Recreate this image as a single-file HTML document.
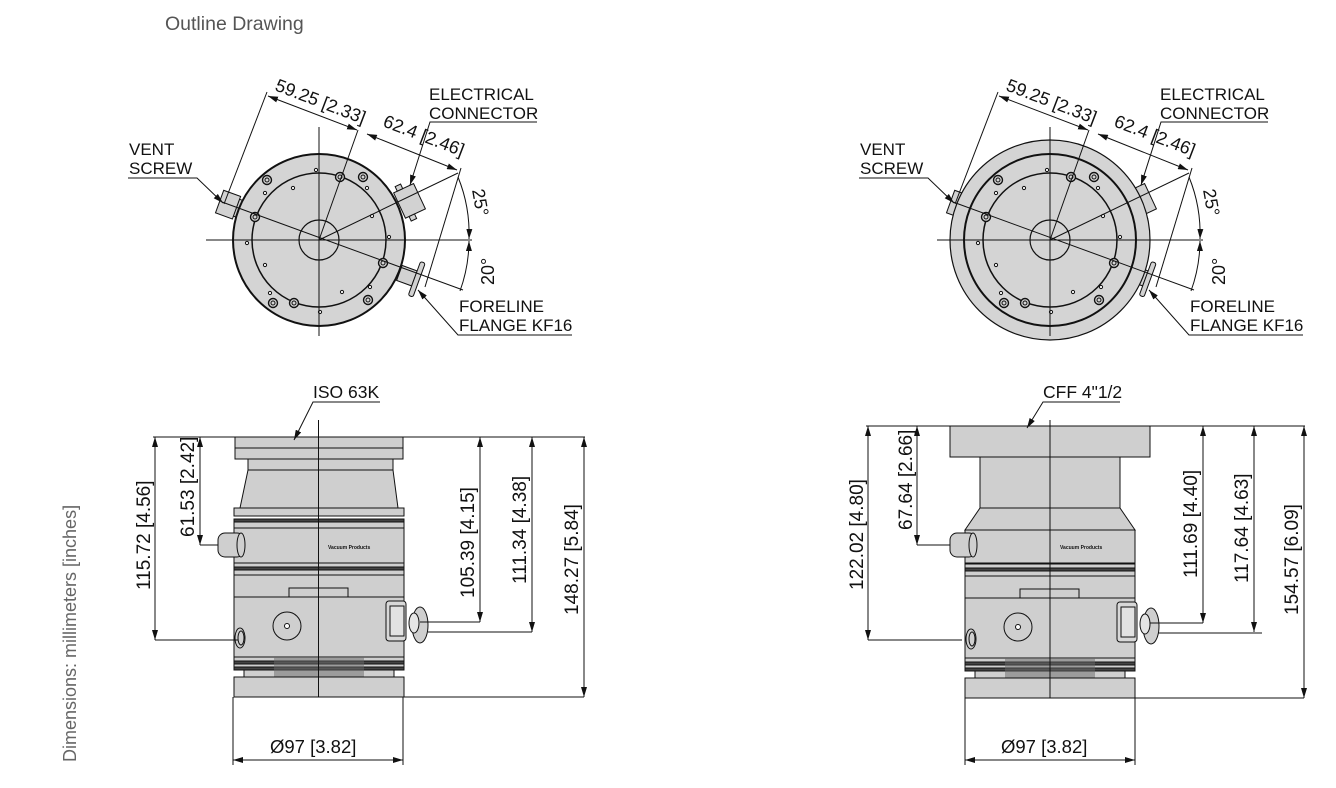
<!DOCTYPE html>
<html><head><meta charset="utf-8"><style>
html,body{margin:0;padding:0;background:#fff;}
svg{display:block;}
text{font-family:"Liberation Sans",Arial,sans-serif;fill:#111;}
</style></head><body>
<svg width="1336" height="788" viewBox="0 0 1336 788" xmlns="http://www.w3.org/2000/svg">
<defs>
<marker id="ar" viewBox="0 0 10 6" refX="10" refY="3" markerWidth="10" markerHeight="6" orient="auto-start-reverse" markerUnits="userSpaceOnUse"><path d="M0,0 L10,3 L0,6 z" fill="#111"/></marker>

<g id="topbase">
 <g transform="translate(229,205) rotate(20)"><rect x="-10" y="-12" width="18" height="24" fill="#d2d2d2" stroke="#111" stroke-width="1"/><rect x="8" y="-9" width="5" height="18" fill="#d2d2d2" stroke="#111" stroke-width="1"/></g>
 <g transform="translate(405,203) rotate(-25)"><rect x="-6" y="-14" width="22" height="28" fill="#d2d2d2" stroke="#111" stroke-width="1"/><rect x="-2" y="-19" width="6" height="5" fill="#d2d2d2" stroke="#111" stroke-width="1"/><rect x="-2" y="14" width="6" height="5" fill="#d2d2d2" stroke="#111" stroke-width="1"/></g>
 <g transform="translate(405,275) rotate(20)"><rect x="-6" y="-8" width="16" height="16" fill="#d2d2d2" stroke="#111" stroke-width="1"/><rect x="10" y="-18" width="5" height="36" rx="2" fill="#d2d2d2" stroke="#111" stroke-width="1"/></g>
</g>
<g id="topdisc">
 <circle cx="319" cy="240" r="86" fill="#d4d4d4" stroke="#111" stroke-width="2"/>
 <circle cx="319" cy="240" r="67" fill="none" stroke="#111" stroke-width="1.5"/>
 <circle cx="319" cy="240" r="20" fill="none" stroke="#111" stroke-width="1.2"/>
 <g fill="#d4d4d4" stroke="#111" stroke-width="1.4">
  <circle cx="340" cy="177" r="4.5"/><circle cx="363" cy="177" r="4.5"/><circle cx="267" cy="180" r="4.5"/>
  <circle cx="255" cy="217" r="4.5"/><circle cx="383" cy="263" r="4.5"/><circle cx="273" cy="303" r="4.5"/>
  <circle cx="294" cy="303" r="4.5"/><circle cx="368" cy="300" r="4.5"/>
 </g>
 <g fill="none" stroke="#111" stroke-width="1">
  <circle cx="340" cy="177" r="2"/><circle cx="363" cy="177" r="2"/><circle cx="267" cy="180" r="2"/>
  <circle cx="255" cy="217" r="2"/><circle cx="383" cy="263" r="2"/><circle cx="273" cy="303" r="2"/>
  <circle cx="294" cy="303" r="2"/><circle cx="368" cy="300" r="2"/>
 </g>
 <g fill="#fff" stroke="#111" stroke-width="1">
  <circle cx="316" cy="170" r="1.6"/><circle cx="265" cy="193" r="1.6"/><circle cx="293" cy="188" r="1.6"/>
  <circle cx="367" cy="188" r="1.6"/><circle cx="372" cy="216" r="1.6"/><circle cx="389" cy="237" r="1.6"/>
  <circle cx="247" cy="243" r="1.6"/><circle cx="265" cy="265" r="1.6"/><circle cx="270" cy="293" r="1.6"/>
  <circle cx="342" cy="292" r="1.6"/><circle cx="370" cy="287" r="1.6"/><circle cx="320" cy="312" r="1.6"/>
 </g>
</g>
<g id="toplines" stroke="#111" stroke-width="1" fill="none">
 <line x1="206" y1="240" x2="472" y2="240"/>
 <line x1="319" y1="127" x2="319" y2="336"/>
 <line x1="222" y1="202" x2="463" y2="290"/>
 <line x1="319" y1="240" x2="458" y2="173"/>
 <line x1="319" y1="240" x2="358" y2="130"/>
 <line x1="224" y1="204" x2="267" y2="92"/>
 <line x1="425" y1="287" x2="461" y2="168"/>
 <line x1="268" y1="96" x2="357" y2="130" marker-start="url(#ar)" marker-end="url(#ar)"/>
 <line x1="367" y1="134" x2="457" y2="170" marker-start="url(#ar)" marker-end="url(#ar)"/>
 <path d="M458,177 A150,150 0 0 1 469,239" marker-end="url(#ar)"/>
 <path d="M460,291 A150,150 0 0 0 469,241" marker-end="url(#ar)"/>
 <polyline points="128,178 197,178 223,203" marker-end="url(#ar)"/>
 <polyline points="537,122 430,122 410,185" marker-end="url(#ar)"/>
 <polyline points="572,335 458,335 418,290" marker-end="url(#ar)"/>
</g>

<g id="lowerbody" stroke="#111" stroke-width="1">
 <rect x="234" y="563" width="170" height="4" fill="#cfcfcf"/>
 <rect x="234" y="567" width="170" height="3" fill="#444"/>
 <rect x="234" y="570" width="170" height="5" fill="#cfcfcf"/>
 <rect x="234" y="575" width="170" height="22" fill="#cfcfcf"/>
 <rect x="289" y="588" width="59" height="9" fill="#cfcfcf"/>
 <rect x="234" y="597" width="170" height="60" fill="#cfcfcf"/>
 <rect x="234" y="657" width="170" height="4" fill="#cfcfcf"/>
 <rect x="234" y="661" width="170" height="3" fill="#444"/>
 <rect x="234" y="664" width="170" height="3" fill="#cfcfcf"/>
 <rect x="234" y="667" width="170" height="3" fill="#444"/>
 <rect x="244" y="670" width="150" height="7" fill="#cfcfcf"/>
 <rect x="274" y="657" width="90" height="20" fill="#6a6a6a" stroke="none" opacity="0.5"/>
 <rect x="234" y="677" width="170" height="20" fill="#cfcfcf"/>
 <circle cx="287" cy="626" r="14" fill="#cfcfcf"/>
 <circle cx="287" cy="626" r="2.5" fill="#fff"/>
 <ellipse cx="240" cy="638" rx="5" ry="10" fill="#cfcfcf"/>
 <ellipse cx="241" cy="638" rx="3" ry="7" fill="none"/>
 <rect x="386" y="601" width="20" height="40" rx="3" fill="#d8d8d8"/>
 <rect x="390" y="606" width="14" height="30" fill="#e2e2e2"/>
 <ellipse cx="420" cy="625" rx="8" ry="18" fill="#cfcfcf"/>
 <ellipse cx="414" cy="623" rx="5" ry="10" fill="#e5e5e5"/>
</g>
</defs>

<text x="165" y="30" font-size="19.5" style="fill:#555">Outline Drawing</text>
<text transform="translate(76,762) rotate(-90)" font-size="18" style="fill:#666">Dimensions: millimeters [inches]</text>

<use href="#topbase"/>
<use href="#topdisc"/>
<use href="#toplines"/>
<g font-size="17">
 <text x="129" y="155">VENT</text><text x="129" y="174">SCREW</text>
 <text x="429" y="100">ELECTRICAL</text><text x="429" y="119">CONNECTOR</text>
 <text x="459" y="312">FORELINE</text><text x="459" y="331">FLANGE KF16</text>
 <text transform="translate(274,90) rotate(21)" font-size="18">59.25 [2.33]</text>
 <text transform="translate(382,126) rotate(21)" font-size="18">62.4 [2.46]</text>
 <text transform="translate(472,190) rotate(80)" font-size="18">25°</text>
 <text transform="translate(494,285) rotate(-90)" font-size="18">20°</text>
</g>

<g transform="translate(731,0)">
 <use href="#topbase"/>
 <circle cx="319" cy="240" r="100" fill="#d4d4d4" stroke="#111" stroke-width="1.2"/>
 <use href="#topdisc"/>
 <use href="#toplines"/>
 <g font-size="17">
 <text x="129" y="155">VENT</text><text x="129" y="174">SCREW</text>
 <text x="429" y="100">ELECTRICAL</text><text x="429" y="119">CONNECTOR</text>
 <text x="459" y="312">FORELINE</text><text x="459" y="331">FLANGE KF16</text>
 <text transform="translate(274,90) rotate(21)" font-size="18">59.25 [2.33]</text>
 <text transform="translate(382,126) rotate(21)" font-size="18">62.4 [2.46]</text>
 <text transform="translate(472,190) rotate(80)" font-size="18">25°</text>
 <text transform="translate(494,285) rotate(-90)" font-size="18">20°</text>
 </g>
</g>

<g stroke="#111" stroke-width="1">
 <rect x="235" y="437" width="168" height="11" fill="#cfcfcf"/>
 <rect x="235" y="448" width="168" height="11" fill="#cfcfcf"/>
 <rect x="248" y="459" width="145" height="11" fill="#cfcfcf"/>
 <polygon points="248,470 393,470 398,508 240,508" fill="#cfcfcf"/>
 <rect x="234" y="508" width="170" height="8" fill="#cfcfcf"/>
 <rect x="234" y="519" width="170" height="3" fill="#444"/>
 <rect x="234" y="522" width="170" height="6" fill="#cfcfcf"/>
 <rect x="234" y="528" width="170" height="35" fill="#cfcfcf"/>
 <rect x="218" y="533" width="26" height="24" rx="7" fill="#cfcfcf"/>
 <ellipse cx="241" cy="545" rx="4" ry="12" fill="#cfcfcf"/>
</g>
<text x="328" y="549" font-size="5" font-weight="bold">Vacuum Products</text>
<use href="#lowerbody"/>
<line x1="318.5" y1="420" x2="318.5" y2="697" stroke="#111" stroke-width="1"/>

<g stroke="#111" stroke-width="1" fill="none">
 <line x1="153" y1="437" x2="585" y2="437"/>
 <line x1="155" y1="437" x2="155" y2="640" marker-start="url(#ar)" marker-end="url(#ar)"/>
 <line x1="155" y1="640" x2="238" y2="640"/>
 <line x1="200" y1="437" x2="200" y2="545" marker-start="url(#ar)" marker-end="url(#ar)"/>
 <line x1="200" y1="545" x2="218" y2="545"/>
 <line x1="480" y1="437" x2="480" y2="622" marker-start="url(#ar)" marker-end="url(#ar)"/>
 <line x1="420" y1="622" x2="480" y2="622"/>
 <line x1="532" y1="437" x2="532" y2="632" marker-start="url(#ar)" marker-end="url(#ar)"/>
 <line x1="428" y1="632" x2="532" y2="632"/>
 <line x1="584" y1="437" x2="584" y2="697" marker-start="url(#ar)" marker-end="url(#ar)"/>
 <line x1="404" y1="697" x2="584" y2="697"/>
 <line x1="233" y1="697" x2="233" y2="765"/>
 <line x1="403" y1="697" x2="403" y2="765"/>
 <line x1="233" y1="760" x2="403" y2="760" marker-start="url(#ar)" marker-end="url(#ar)"/>
 <polyline points="380,402 313,402 294,440" marker-end="url(#ar)"/>
</g>
<g font-size="17.5">
 <text x="313" y="398">ISO 63K</text>
 <text x="270" y="753" font-size="18.5">Ø97 [3.82]</text>
</g>
<g font-size="19">
 <text transform="translate(150,590) rotate(-90)">115.72 [4.56]</text>
 <text transform="translate(194,537) rotate(-90)">61.53 [2.42]</text>
 <text transform="translate(474,598) rotate(-90)">105.39 [4.15]</text>
 <text transform="translate(526,584) rotate(-90)">111.34 [4.38]</text>
 <text transform="translate(578,615) rotate(-90)">148.27 [5.84]</text>
</g>

<g stroke="#111" stroke-width="1">
 <rect x="950" y="426" width="200" height="31" fill="#cfcfcf"/>
 <rect x="980" y="457" width="140" height="51" fill="#cfcfcf"/>
 <polygon points="980,508 1120,508 1135,530 965,530" fill="#cfcfcf"/>
 <rect x="965" y="530" width="170" height="33" fill="#cfcfcf"/>
 <rect x="950" y="533" width="26" height="24" rx="7" fill="#cfcfcf"/>
 <ellipse cx="973" cy="545" rx="4" ry="12" fill="#cfcfcf"/>
</g>
<text x="1060" y="549" font-size="5" font-weight="bold">Vacuum Products</text>
<use href="#lowerbody" transform="translate(731,1)"/>
<line x1="1050" y1="420" x2="1050" y2="698" stroke="#111" stroke-width="1"/>

<g stroke="#111" stroke-width="1" fill="none">
 <line x1="866" y1="426" x2="1305" y2="426"/>
 <line x1="868" y1="426" x2="868" y2="640" marker-start="url(#ar)" marker-end="url(#ar)"/>
 <line x1="868" y1="640" x2="962" y2="640"/>
 <line x1="917" y1="426" x2="917" y2="545" marker-start="url(#ar)" marker-end="url(#ar)"/>
 <line x1="917" y1="545" x2="950" y2="545"/>
 <line x1="1203" y1="426" x2="1203" y2="623" marker-start="url(#ar)" marker-end="url(#ar)"/>
 <line x1="1150" y1="623" x2="1203" y2="623"/>
 <line x1="1254" y1="426" x2="1254" y2="632" marker-start="url(#ar)" marker-end="url(#ar)"/>
 <line x1="1158" y1="633" x2="1262" y2="633"/>
 <line x1="1304" y1="426" x2="1304" y2="698" marker-start="url(#ar)" marker-end="url(#ar)"/>
 <line x1="1135" y1="698" x2="1304" y2="698"/>
 <line x1="965" y1="698" x2="965" y2="765"/>
 <line x1="1135" y1="698" x2="1135" y2="765"/>
 <line x1="965" y1="760" x2="1135" y2="760" marker-start="url(#ar)" marker-end="url(#ar)"/>
 <polyline points="1120,402 1043,402 1027,428" marker-end="url(#ar)"/>
</g>
<g font-size="17.5">
 <text x="1043" y="398">CFF 4"1/2</text>
 <text x="1001" y="753" font-size="18.5">Ø97 [3.82]</text>
</g>
<g font-size="19">
 <text transform="translate(863,590) rotate(-90)">122.02 [4.80]</text>
 <text transform="translate(912,530) rotate(-90)">67.64 [2.66]</text>
 <text transform="translate(1197,578) rotate(-90)">111.69 [4.40]</text>
 <text transform="translate(1248,583) rotate(-90)">117.64 [4.63]</text>
 <text transform="translate(1298,615) rotate(-90)">154.57 [6.09]</text>
</g>
</svg>
</body></html>
